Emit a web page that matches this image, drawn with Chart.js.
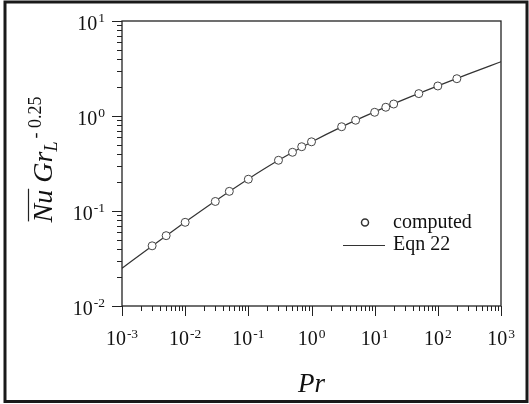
<!DOCTYPE html>
<html>
<head>
<meta charset="utf-8">
<script src="https://cdn.jsdelivr.net/npm/chart.js@4/dist/chart.umd.min.js"></script>
<style>
  html, body { margin: 0; padding: 0; background: #fff; }
  canvas { display: block; }
</style>
</head>
<body>
<canvas id="grafico" width="529" height="404"></canvas>
<script>
// datos (Pr vs Nu Gr^-0.25)
var prComputed = [0.003, 0.005, 0.01, 0.03, 0.05, 0.1, 0.3, 0.5, 0.7, 1, 3, 5, 10, 15, 20, 50, 100, 200];
var nuComputed = [0.043, 0.055, 0.076, 0.126, 0.161, 0.216, 0.342, 0.415, 0.475, 0.535, 0.771, 0.902, 1.094, 1.236, 1.337, 1.72, 2.07, 2.47];

// curva Eqn 22
var prLinea = [0.001, 0.003, 0.01, 0.03, 0.1, 0.3, 1, 3, 10, 30, 100, 300, 1000];
var nuLinea = [0.025, 0.0428, 0.0764, 0.1275, 0.2174, 0.3413, 0.533, 0.769, 1.105, 1.504, 2.073, 2.756, 3.73];

// exponentes de las etiquetas de los ejes
var expX = [-3, -2, -1, 0, 1, 2, 3];
var expY = [-2, -1, 0, 1];

var fuente = '"Liberation Serif", "Times New Roman", serif';

var puntos = prComputed.map(function (p, i) { return { x: p, y: nuComputed[i] }; });
var linea = prLinea.map(function (p, i) { return { x: p, y: nuLinea[i] }; });

// dibuja 10 con exponente
function dibujarPotencia(ctx, exp, x, y, align) {
  var base = '10', sup = String(exp);
  ctx.font = '20px ' + fuente;
  var wb = ctx.measureText(base).width;
  ctx.font = '13.5px ' + fuente;
  var ws = ctx.measureText(sup).width;
  var total = wb + ws + 1;
  var x0 = align === 'right' ? x - total : x - total / 2;
  ctx.textAlign = 'left';
  ctx.textBaseline = 'alphabetic';
  ctx.font = '20px ' + fuente;
  ctx.fillText(base, x0, y);
  ctx.font = '13.5px ' + fuente;
  ctx.fillText(sup, x0 + wb + 1, y - 7.5);
}

var pluginEjes = {
  id: 'pluginEjes',
  afterDraw: function (chart) {
    var ctx = chart.ctx;
    var a = chart.chartArea;
    var sx = chart.scales.x, sy = chart.scales.y;
    ctx.save();
    ctx.strokeStyle = '#222';
    ctx.fillStyle = '#111';

    // caja del grafico
    ctx.lineWidth = 1.3;
    ctx.strokeRect(a.left, a.top, a.right - a.left, a.bottom - a.top);

    // marcas eje x
    ctx.lineWidth = 1;
    ctx.beginPath();
    for (var i = 0; i < expX.length; i++) {
      var dec = Math.pow(10, expX[i]);
      var px = Math.round(sx.getPixelForValue(dec)) + 0.5;
      ctx.moveTo(px, a.bottom); ctx.lineTo(px, a.bottom + 10);
      if (i < expX.length - 1) {
        for (var m = 2; m <= 9; m++) {
          var pm = Math.round(sx.getPixelForValue(m * dec)) + 0.5;
          ctx.moveTo(pm, a.bottom); ctx.lineTo(pm, a.bottom + 5);
        }
      }
    }
    // marcas eje y
    for (var j = 0; j < expY.length; j++) {
      var decy = Math.pow(10, expY[j]);
      var py = Math.round(sy.getPixelForValue(decy)) + 0.5;
      ctx.moveTo(a.left, py); ctx.lineTo(a.left - 10, py);
      if (j < expY.length - 1) {
        for (var n = 2; n <= 9; n++) {
          var pn = Math.round(sy.getPixelForValue(n * decy)) + 0.5;
          ctx.moveTo(a.left, pn); ctx.lineTo(a.left - 5, pn);
        }
      }
    }
    ctx.stroke();

    // etiquetas
    for (var k = 0; k < expX.length; k++) {
      dibujarPotencia(ctx, expX[k], sx.getPixelForValue(Math.pow(10, expX[k])), a.bottom + 39, 'center');
    }
    for (var q = 0; q < expY.length; q++) {
      dibujarPotencia(ctx, expY[q], a.left - 17, sy.getPixelForValue(Math.pow(10, expY[q])) + 8.5, 'right');
    }

    // titulo eje x
    ctx.font = 'italic 27px ' + fuente;
    ctx.textAlign = 'center';
    ctx.fillText('Pr', (a.left + a.right) / 2, 392);

    // titulo eje y (rotado)
    ctx.save();
    ctx.translate(52, (a.top + a.bottom) / 2 - 4);
    ctx.rotate(-Math.PI / 2);
    ctx.textAlign = 'left';
    var fMain = 'italic 28px ' + fuente;
    var fSub = 'italic 18px ' + fuente;
    var fSup = '18px ' + fuente;
    ctx.font = fMain;
    var wNu = ctx.measureText('Nu').width;
    var wSp = ctx.measureText(' ').width;
    var wGr = ctx.measureText('Gr').width;
    ctx.font = fSub;
    var wL = ctx.measureText('L').width;
    ctx.font = fSup;
    var wEx = ctx.measureText('- 0.25').width;
    var tot = wNu + wSp + wGr + wL + 3 + wEx;
    var x0 = -tot / 2;
    ctx.font = fMain;
    ctx.fillText('Nu', x0, 0);
    ctx.lineWidth = 1.2;
    ctx.beginPath();
    ctx.moveTo(x0 + 1, -23.5); ctx.lineTo(x0 + wNu + 1, -23.5);
    ctx.stroke();
    ctx.fillText('Gr', x0 + wNu + wSp, 0);
    ctx.font = fSub;
    ctx.fillText('L', x0 + wNu + wSp + wGr, 5);
    ctx.font = fSup;
    ctx.fillText('- 0.25', x0 + wNu + wSp + wGr + wL + 3, -11);
    ctx.restore();

    // leyenda
    ctx.lineWidth = 1.5;
    ctx.strokeStyle = '#333';
    ctx.beginPath();
    ctx.arc(365, 222.5, 3.5, 0, Math.PI * 2);
    ctx.stroke();
    ctx.lineWidth = 1;
    ctx.beginPath();
    ctx.moveTo(343, 245.5); ctx.lineTo(385, 245.5);
    ctx.stroke();
    ctx.font = '20px ' + fuente;
    ctx.textAlign = 'left';
    ctx.fillText('computed', 393, 228);
    ctx.fillText('Eqn 22', 393, 250);

    // marco exterior
    ctx.strokeStyle = '#1a1a1a';
    ctx.lineWidth = 3;
    ctx.strokeRect(5, 2, 522, 399.5);
    ctx.restore();
  }
};

new Chart(document.getElementById('grafico'), {
  type: 'scatter',
  data: {
    datasets: [{
      label: 'computed',
      data: puntos,
      showLine: false,
      pointRadius: 4,
      pointBackgroundColor: '#fff',
      pointBorderColor: '#444',
      pointBorderWidth: 1
    }, {
      label: 'Eqn 22',
      data: linea,
      showLine: true,
      pointRadius: 0,
      borderColor: '#333',
      borderWidth: 1.2,
      cubicInterpolationMode: 'monotone'
    }]
  },
  options: {
    responsive: false,
    animation: false,
    devicePixelRatio: 1,
    layout: { padding: { left: 122, right: 28, top: 21, bottom: 98 } },
    plugins: { legend: { display: false }, tooltip: { enabled: false } },
    scales: {
      x: { type: 'logarithmic', min: 0.001, max: 1000, display: false },
      y: { type: 'logarithmic', min: 0.01, max: 10, display: false }
    }
  },
  plugins: [pluginEjes]
});
</script>
</body>
</html>
